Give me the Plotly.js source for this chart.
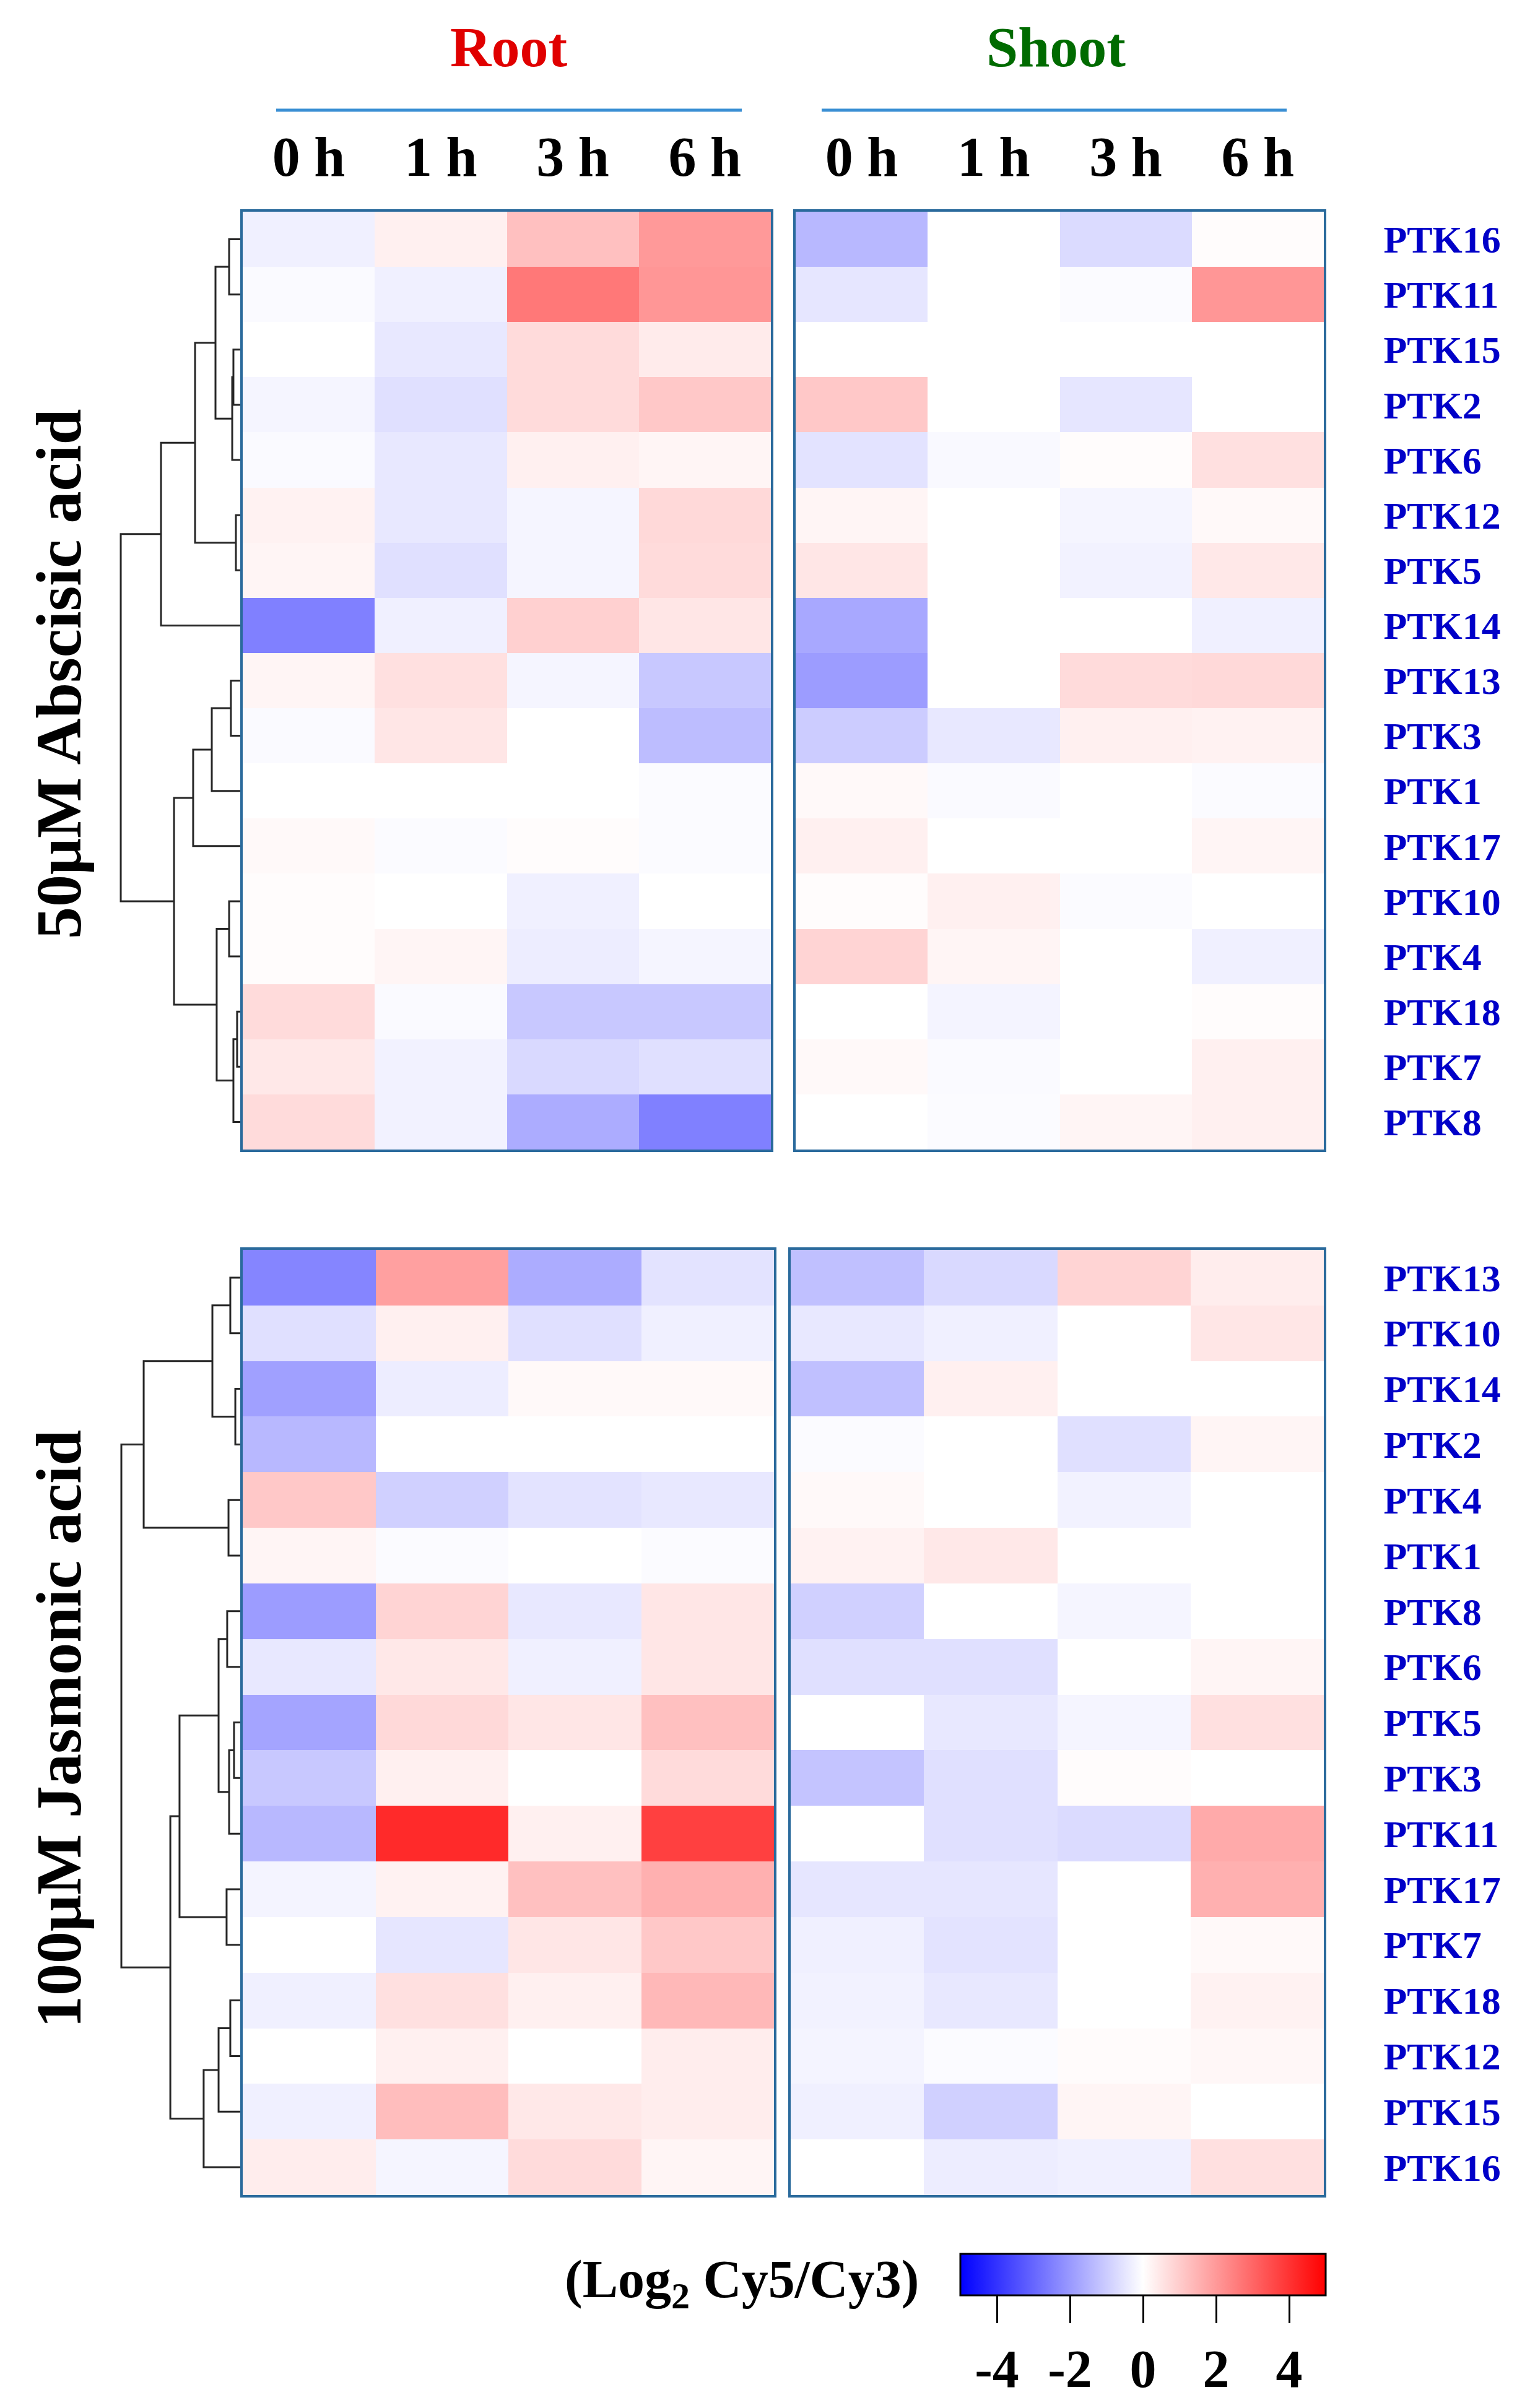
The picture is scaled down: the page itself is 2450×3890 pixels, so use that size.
<!DOCTYPE html>
<html><head><meta charset="utf-8">
<script src="https://cdn.plot.ly/plotly-3.0.1.min.js"></script>
<style>body{margin:0;background:#fff}</style>
</head><body>
<div id="chart" style="width:2450px;height:3890px"></div>
<script>
// ---------------- DATA ----------------
const timePoints = ["0 h", "1 h", "3 h", "6 h"];
const tissues = ["Root", "Shoot"];
const treatments = ["50μM Abscisic acid", "100μM Jasmonic acid"];

const abaGenes = ["PTK16","PTK11","PTK15","PTK2","PTK6","PTK12","PTK5","PTK14","PTK13","PTK3","PTK1","PTK17","PTK10","PTK4","PTK18","PTK7","PTK8"];
const abaRoot = [
  [-0.30, 0.30, 1.24, 2.00],
  [-0.10,-0.30, 2.65, 2.06],
  [ 0.00,-0.45, 0.70, 0.40],
  [-0.20,-0.60, 0.70, 1.08],
  [-0.10,-0.45, 0.30, 0.20],
  [ 0.25,-0.45,-0.20, 0.75],
  [ 0.20,-0.60,-0.20, 0.70],
  [-2.50,-0.30, 0.92, 0.50],
  [ 0.20, 0.60,-0.20,-1.08],
  [-0.10, 0.50, 0.00,-1.30],
  [ 0.00, 0.00, 0.00,-0.08],
  [ 0.12,-0.08, 0.05,-0.08],
  [ 0.05, 0.00,-0.30, 0.00],
  [ 0.05, 0.20,-0.35,-0.20],
  [ 0.70,-0.10,-1.08,-1.08],
  [ 0.45,-0.25,-0.75,-0.60],
  [ 0.70,-0.25,-1.63,-2.50]
];
const abaShoot = [
  [-1.40, 0.00,-0.70, 0.05],
  [-0.50, 0.00,-0.08, 2.06],
  [ 0.00, 0.00, 0.00, 0.00],
  [ 1.08, 0.00,-0.50, 0.00],
  [-0.55,-0.12, 0.05, 0.60],
  [ 0.20, 0.00,-0.20, 0.12],
  [ 0.50, 0.00,-0.25, 0.45],
  [-1.70, 0.00, 0.00,-0.30],
  [-1.94, 0.00, 0.70, 0.75],
  [-1.00,-0.45, 0.30, 0.25],
  [ 0.12,-0.10, 0.00,-0.08],
  [ 0.30, 0.00, 0.00, 0.20],
  [ 0.05, 0.30,-0.08, 0.00],
  [ 0.85, 0.20, 0.00,-0.30],
  [ 0.00,-0.22, 0.00, 0.05],
  [ 0.12,-0.10, 0.00, 0.30],
  [ 0.00,-0.08, 0.20, 0.30]
];

const jaGenes = ["PTK13","PTK10","PTK14","PTK2","PTK4","PTK1","PTK8","PTK6","PTK5","PTK3","PTK11","PTK17","PTK7","PTK18","PTK12","PTK15","PTK16"];
const jaRoot = [
  [-2.40, 1.86,-1.63,-0.55],
  [-0.60, 0.30,-0.60,-0.30],
  [-1.86,-0.35, 0.12, 0.12],
  [-1.40, 0.00, 0.00, 0.00],
  [ 1.08,-0.92,-0.55,-0.45],
  [ 0.20,-0.08, 0.00,-0.08],
  [-1.94, 0.85,-0.45, 0.50],
  [-0.45, 0.45,-0.30, 0.50],
  [-1.78, 0.75, 0.50, 1.24],
  [-1.08, 0.30, 0.00, 0.70],
  [-1.40, 4.18, 0.30, 3.75],
  [-0.22, 0.25, 1.24, 1.55],
  [ 0.00,-0.50, 0.50, 1.08],
  [-0.30, 0.60, 0.30, 1.40],
  [ 0.00, 0.30, 0.00, 0.35],
  [-0.30, 1.30, 0.45, 0.35],
  [ 0.35,-0.20, 0.70, 0.20]
];
const jaShoot = [
  [-1.24,-0.75, 0.85, 0.35],
  [-0.45,-0.30, 0.00, 0.50],
  [-1.24, 0.30, 0.00, 0.00],
  [-0.08, 0.00,-0.60, 0.20],
  [ 0.12, 0.00,-0.25, 0.00],
  [ 0.25, 0.45, 0.00, 0.00],
  [-0.92, 0.00,-0.20, 0.00],
  [-0.60,-0.60, 0.00, 0.20],
  [ 0.00,-0.45,-0.20, 0.60],
  [-1.15,-0.60, 0.05, 0.00],
  [ 0.00,-0.60,-0.70, 1.67],
  [-0.50,-0.50, 0.00, 1.55],
  [-0.30,-0.55, 0.00, 0.12],
  [-0.25,-0.45, 0.00, 0.25],
  [-0.22,-0.08, 0.08, 0.15],
  [-0.30,-0.92, 0.20, 0.00],
  [ 0.00,-0.35,-0.30, 0.60]
];

// hierarchical clustering merges: [child A, child B, merge height]; 0..16 = rows, 17+ = earlier merges
const abaLinkage = [
  [0,1,0.93],[2,3,0.57],[18,4,0.67],[17,19,2.07],[5,6,0.36],[20,21,3.78],[22,7,6.63],
  [8,9,0.78],[24,10,2.38],[25,11,3.94],[12,13,0.93],[14,15,0.26],[28,16,0.57],[27,29,1.97],
  [26,30,5.54],[23,31,10.0]
];
const jaLinkage = [
  [0,1,0.83],[2,3,0.41],[17,18,2.33],[4,5,0.98],[19,20,8.08],[6,7,1.09],[8,9,0.52],[23,10,0.93],
  [22,24,1.81],[11,12,1.14],[25,26,5.08],[13,14,0.83],[28,15,1.81],[29,16,3.06],[27,30,5.85],[21,31,9.95]
];

const colorTicks = [-4, -2, 0, 2, 4];
const colorRange = [-5, 5];

// ---------------- DRAWING ----------------
const W = 2450, H = 3890;
const px = v => v / W;
const py = v => 1 - v / H;
const SERIF = "Liberation Serif, Times New Roman, serif";
const rows = abaGenes.map((g, i) => i);
const colorscale = [[0, "rgb(0,0,255)"], [0.5, "rgb(255,255,255)"], [1, "rgb(255,0,0)"]];

function dendroLines(linkage, n) {
  const pos = [], hts = [];
  for (let i = 0; i < n; i++) { pos.push(i); hts.push(0); }
  const xs = [], ys = [];
  linkage.forEach(([a, b, h]) => {
    xs.push(hts[a], h, h, hts[b], null);
    ys.push(pos[a], pos[a], pos[b], pos[b], null);
    pos.push((pos[a] + pos[b]) / 2); hts.push(h);
  });
  return { xs, ys };
}

function heat(z, xa, ya, showScale) {
  const t = {
    type: "heatmap", z: z, x: timePoints, y: rows, xaxis: xa, yaxis: ya,
    colorscale: colorscale, zmin: colorRange[0], zmax: colorRange[1], showscale: !!showScale,
    hoverinfo: "skip"
  };
  if (showScale) {
    t.colorbar = {
      orientation: "h", x: px(1846), xanchor: "center", y: py(3641), yanchor: "top", yref: "paper",
      len: 590, lenmode: "pixels", thickness: 67, thicknessmode: "pixels",
      outlinewidth: 3, outlinecolor: "#000", xpad: 0, ypad: 0,
      tickvals: colorTicks, ticktext: colorTicks.map(String),
      ticks: "outside", ticklen: 44, tickwidth: 3, tickcolor: "#000",
      tickfont: { family: SERIF, size: 86, color: "#000", weight: "bold" }
    };
  }
  return t;
}

const d1 = dendroLines(abaLinkage, abaGenes.length);
const d2 = dendroLines(jaLinkage, jaGenes.length);
const dendroStyle = { color: "#262626", width: 3 };

const data = [
  heat(abaRoot, "x", "y", true),
  heat(abaShoot, "x2", "y2"),
  heat(jaRoot, "x3", "y3"),
  heat(jaShoot, "x4", "y4"),
  { type: "scatter", mode: "lines", x: d1.xs, y: d1.ys, xaxis: "x5", yaxis: "y5", line: dendroStyle, hoverinfo: "skip", connectgaps: false },
  { type: "scatter", mode: "lines", x: d2.xs, y: d2.ys, xaxis: "x6", yaxis: "y6", line: dendroStyle, hoverinfo: "skip", connectgaps: false }
];

const BOX = "#2a6a9c";
const topY = [py(1857), py(342)];
const botY = [py(3546), py(2019)];
const rowRange = [abaGenes.length - 0.5, -0.5];

function xTop(domain, anchor, showLabels) {
  return {
    domain: domain, anchor: anchor, side: "top", showgrid: false, zeroline: false,
    showline: true, mirror: true, linecolor: BOX, linewidth: 4,
    showticklabels: showLabels, ticks: showLabels ? "outside" : "", ticklen: 18, tickcolor: "rgba(0,0,0,0)",
    tickfont: { family: SERIF, size: 90, color: "#000", weight: "bold" }, fixedrange: true
  };
}
function yPlain(domain, anchor) {
  return { domain: domain, anchor: anchor, range: rowRange, showgrid: false, zeroline: false, showline: true, mirror: true,
    linecolor: BOX, linewidth: 4, showticklabels: false, ticks: "", fixedrange: true };
}
function yGenes(domain, anchor, genes) {
  return { domain: domain, anchor: anchor, range: rowRange, side: "right", showgrid: false, zeroline: false, showline: true, mirror: true,
    linecolor: BOX, linewidth: 4, tickvals: rows, ticktext: genes, ticks: "outside", ticklen: 80,
    tickcolor: "rgba(0,0,0,0)", tickfont: { family: SERIF, size: 62, color: "#0000c8", weight: "bold" }, fixedrange: true };
}
function dendroX(anchor) {
  return { domain: [px(190), px(392)], anchor: anchor, range: [10.26, -0.21], visible: false, fixedrange: true };
}

const layout = {
  width: W, height: H, margin: { l: 0, r: 0, t: 0, b: 0 },
  paper_bgcolor: "#fff", plot_bgcolor: "#fff", showlegend: false,
  xaxis: xTop([px(392), px(1245)], "y", true), yaxis: yPlain(topY, "x"),
  xaxis2: xTop([px(1285), px(2138)], "y2", true), yaxis2: yGenes(topY, "x2", abaGenes),
  xaxis3: xTop([px(392), px(1250)], "y3", false), yaxis3: yPlain(botY, "x3"),
  xaxis4: xTop([px(1277), px(2138)], "y4", false), yaxis4: yGenes(botY, "x4", jaGenes),
  xaxis5: dendroX("y5"), yaxis5: { domain: topY, anchor: "x5", range: rowRange, visible: false, fixedrange: true },
  xaxis6: dendroX("y6"), yaxis6: { domain: botY, anchor: "x6", range: rowRange, visible: false, fixedrange: true },
  shapes: [
    { type: "line", xref: "paper", yref: "paper", x0: px(446), x1: px(1198), y0: py(178), y1: py(178), line: { color: "#3a8fd4", width: 5 } },
    { type: "line", xref: "paper", yref: "paper", x0: px(1327), x1: px(2078), y0: py(178), y1: py(178), line: { color: "#3a8fd4", width: 5 } }
  ],
  annotations: [
    { text: tissues[0], xref: "paper", yref: "paper", x: px(821), y: py(76), xanchor: "center", yanchor: "middle", showarrow: false,
      font: { family: SERIF, size: 92, color: "#e00000", weight: "bold" } },
    { text: tissues[1], xref: "paper", yref: "paper", x: px(1705), y: py(76), xanchor: "center", yanchor: "middle", showarrow: false,
      font: { family: SERIF, size: 92, color: "#006b00", weight: "bold" } },
    { text: treatments[0], xref: "paper", yref: "paper", x: px(94), y: py(1089), textangle: -90, xanchor: "center", yanchor: "middle", showarrow: false,
      font: { family: SERIF, size: 104, color: "#000", weight: "bold" } },
    { text: treatments[1], xref: "paper", yref: "paper", x: px(94), y: py(2793), textangle: -90, xanchor: "center", yanchor: "middle", showarrow: false,
      font: { family: SERIF, size: 104, color: "#000", weight: "bold" } },
    { text: "(Log<sub>2</sub> Cy5/Cy3)", xref: "paper", yref: "paper", x: px(1198), y: py(3688), xanchor: "center", yanchor: "middle", showarrow: false,
      font: { family: SERIF, size: 86, color: "#000", weight: "bold" } }
  ]
};

Plotly.newPlot("chart", data, layout, { staticPlot: true, displayModeBar: false });
</script>
</body></html>
